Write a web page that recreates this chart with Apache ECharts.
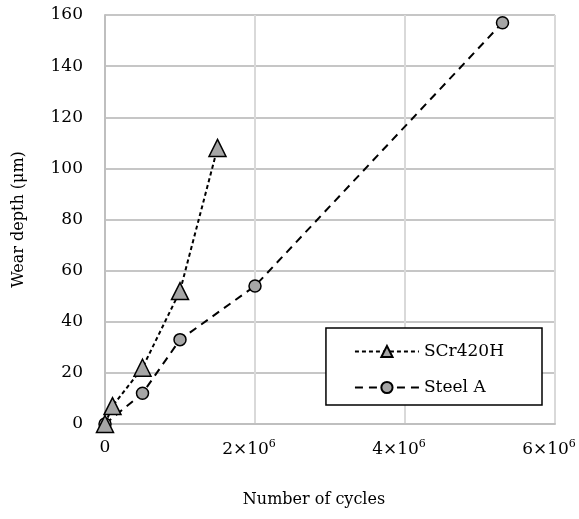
<!DOCTYPE html>
<html><head><meta charset="utf-8">
<script src="https://cdn.jsdelivr.net/npm/echarts@6/dist/echarts.min.js"></script>
<style>html,body{margin:0;padding:0;background:#fff}#c{width:579px;height:519px}</style>
</head><body><div id="c"></div>
<script>
const scrCycles = [0, 0.1e6, 0.5e6, 1.0e6, 1.5e6];
const scrWear = [0, 7, 22, 52, 108];
const steelCycles = [0, 0.5e6, 1.0e6, 2.0e6, 5.3e6];
const steelWear = [0, 12, 33, 54, 157];
const seriesNames = ['SCr420H', 'Steel A'];
const xTitle = 'Number of cycles';
const yTitle = 'Wear depth (μm)';

const FONT = 'DejaVu Serif';
const chart = echarts.init(document.getElementById('c'), null, {renderer: 'canvas'});
const pair = (xs, ys) => xs.map((x, i) => [x, ys[i]]);
chart.setOption({
  animation: false,
  textStyle: {fontFamily: FONT},
  grid: {left: 105, right: 24, top: 15, bottom: 95, containLabel: false, outerBoundsMode: 'none'},
  xAxis: {
    type: 'value', min: 0, max: 6e6, interval: 2e6,
    name: xTitle, nameLocation: 'middle', nameGap: 68,
    nameTextStyle: {fontFamily: FONT, fontSize: 16, color: '#000', padding: [0, 32, 0, 0]},
    axisLine: {show: true, lineStyle: {color: '#bfbfbf', width: 2}},
    axisTick: {show: false},
    splitLine: {show: true, lineStyle: {color: '#d9d9d9', width: 2}},
    axisLabel: {
      margin: 15, color: '#000', fontFamily: FONT, fontSize: 17,
      formatter: v => v === 0 ? '{z|0}' : '{a|' + (v / 1e6) + '×10}{s|6}',
      rich: {
        z: {fontFamily: FONT, fontSize: 17, color: '#000'},
        a: {fontFamily: FONT, fontSize: 17, color: '#000', padding: [0, 0, 0, 0]},
        s: {fontFamily: FONT, fontSize: 11, color: '#000', padding: [0, 12, 10, 0]}
      }
    }
  },
  yAxis: {
    type: 'value', min: 0, max: 160, interval: 20,
    name: yTitle, nameLocation: 'middle', nameGap: 78, nameRotate: 90,
    nameTextStyle: {fontFamily: FONT, fontSize: 16, color: '#000'},
    axisLine: {show: true, lineStyle: {color: '#bfbfbf', width: 2}},
    axisTick: {show: false},
    splitLine: {show: true, lineStyle: {color: '#c6c6c6', width: 2}},
    axisLabel: {margin: 22, color: '#000', fontFamily: FONT, fontSize: 17}
  },
  legend: {
    right: 37, top: 328, orient: 'vertical',
    backgroundColor: '#fff', borderColor: '#000', borderWidth: 1.5, borderRadius: 0,
    padding: [15, 38, 9, 28], itemGap: 19, itemWidth: 64, itemHeight: 14,
    textStyle: {fontFamily: FONT, fontSize: 17, color: '#000'},
    data: seriesNames
  },
  series: [
    {
      name: seriesNames[0], type: 'line', data: pair(scrCycles, scrWear),
      symbol: 'triangle', symbolSize: 17,
      lineStyle: {color: '#000', width: 2, type: [4, 3]},
      itemStyle: {color: '#a6a6a6', borderColor: '#000', borderWidth: 1.5},
      z: 3
    },
    {
      name: seriesNames[1], type: 'line', data: pair(steelCycles, steelWear),
      symbol: 'circle', symbolSize: 12,
      lineStyle: {color: '#000', width: 2, type: [8, 6]},
      itemStyle: {color: '#a6a6a6', borderColor: '#000', borderWidth: 1.5},
      z: 2
    }
  ]
});
</script></body></html>
